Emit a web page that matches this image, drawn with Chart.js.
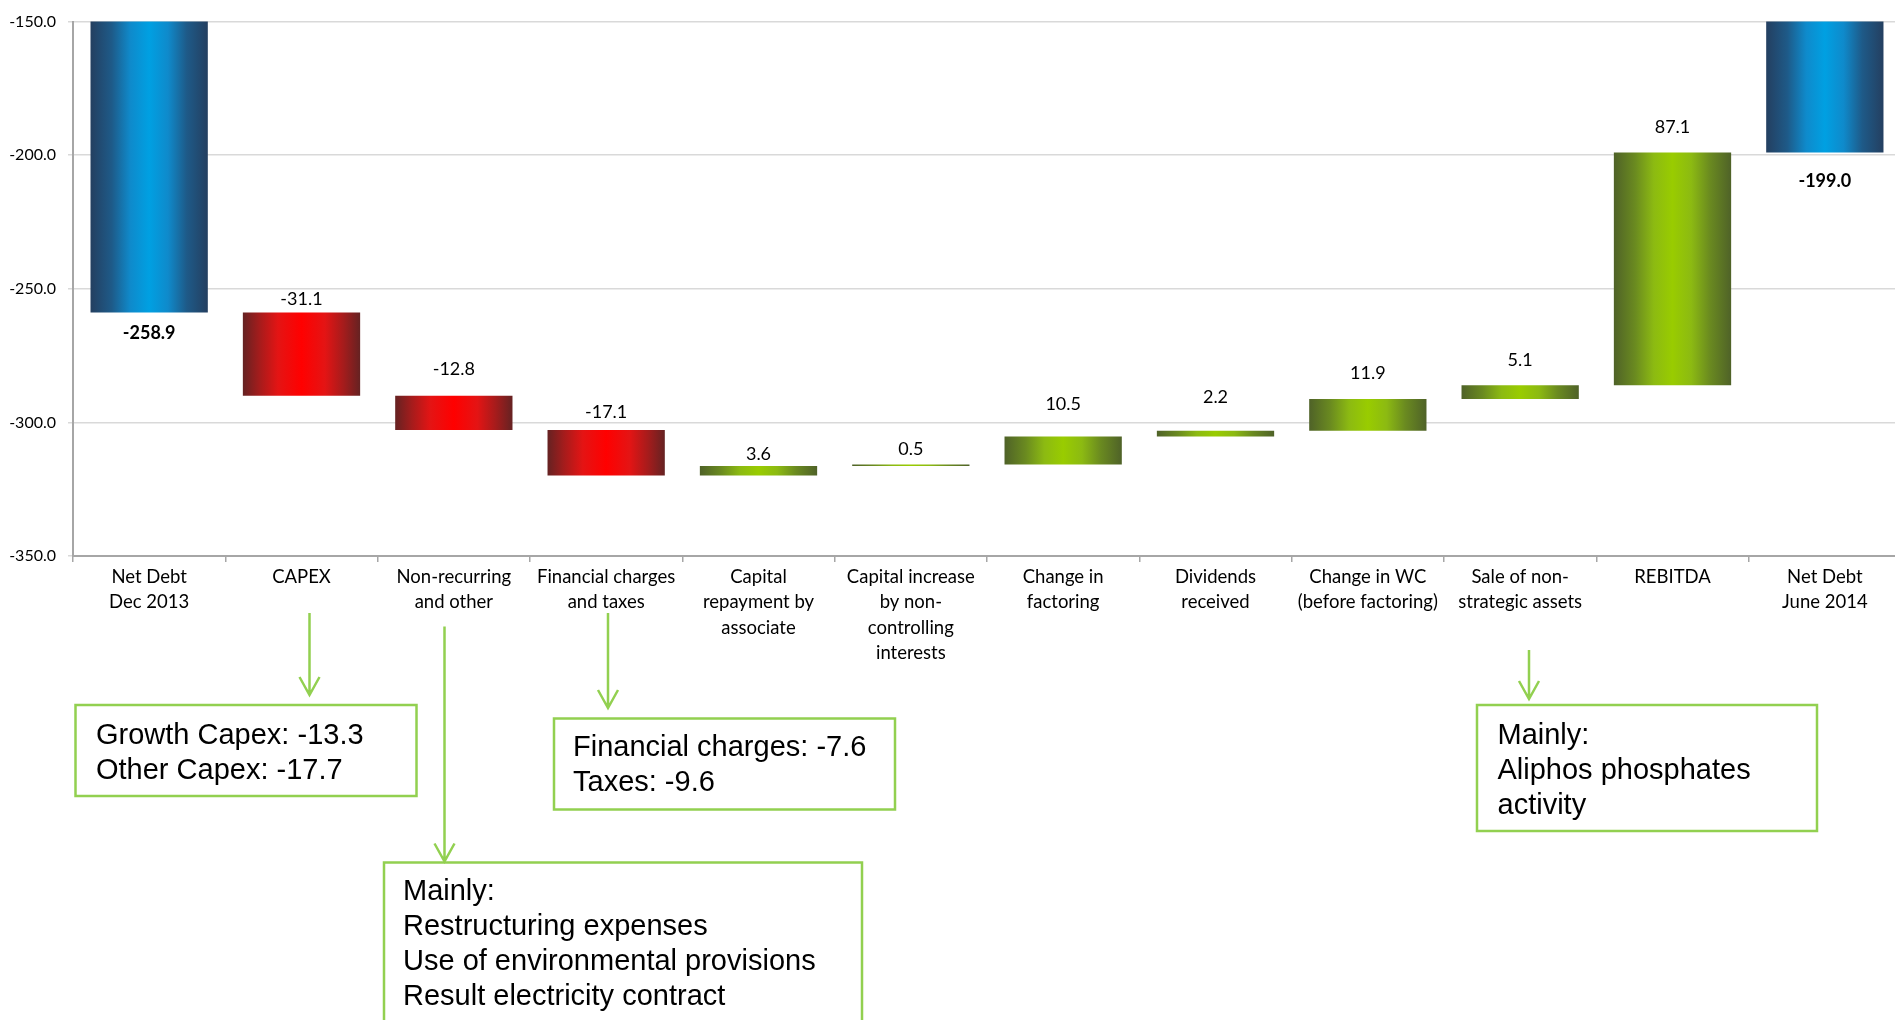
<!DOCTYPE html>
<html>
<head>
<meta charset="utf-8">
<title>Net debt bridge</title>
<script src="https://cdn.jsdelivr.net/npm/chart.js@4.4.1/dist/chart.umd.min.js"></script>
<style>
  html, body { margin: 0; padding: 0; background: #fff; overflow: hidden; }
  #wrap { position: relative; width: 1901px; height: 1020px; }
</style>
</head>
<body>
<div id="wrap"><canvas id="bridge"></canvas></div>
<script>
var categories = [
  ['Net Debt', 'Dec 2013'],
  ['CAPEX'],
  ['Non-recurring', 'and other'],
  ['Financial charges', 'and taxes'],
  ['Capital', 'repayment by', 'associate'],
  ['Capital increase', 'by non-', 'controlling', 'interests'],
  ['Change in', 'factoring'],
  ['Dividends', 'received'],
  ['Change in WC', '(before factoring)'],
  ['Sale of non-', 'strategic assets'],
  ['REBITDA'],
  ['Net Debt', 'June 2014']
];
// EUR m; first and last entries are closing balances, the rest are movements
var movements = [-258.9, -31.1, -12.8, -17.1, 3.6, 0.5, 10.5, 2.2, 11.9, 5.1, 87.1, -199.0];
var isBalance = [true, false, false, false, false, false, false, false, false, false, false, true];
var yTicks = [-350, -300, -250, -200, -150];

// distance of each value label from its bar edge (px)
var labelGap = [21, 13, 26, 18, 12, 15, 32, 33, 26, 25, 25, 29];

var callouts = [
  { lines: ['Growth Capex: -13.3', 'Other Capex: -17.7'],
    box: [75.5, 705, 341, 91], text: [96, 744], arrow: [309.5, 613, 695] },
  { lines: ['Financial charges: -7.6', 'Taxes: -9.6'],
    box: [554, 718.5, 341, 91], text: [573, 756], arrow: [608, 613, 708] },
  { lines: ['Mainly:', 'Restructuring expenses', 'Use of environmental provisions', 'Result electricity contract'],
    box: [384, 862.5, 478, 200], text: [403, 900], arrow: [444.5, 626.5, 861.5] },
  { lines: ['Mainly:', 'Aliphos phosphates', 'activity'],
    box: [1477, 705, 340, 126], text: [1497.5, 744], arrow: [1529, 650, 699] }
];

var BAR_PCT = 0.77;

// floating [from, to] ranges for the waterfall
var ranges = [];
var running = 0;
movements.forEach(function(v, i) {
  if (isBalance[i]) {
    ranges.push([0, v]);
    running = v;
  } else {
    ranges.push([running, running + v]);
    running += v;
  }
});

// edge -> centre colour stops, mirrored across the bar
var palettes = {
  balance: [[0, '#243f60'], [0.18, '#1e5a88'], [0.34, '#0f8acb'], [0.5, '#00a0e2']],
  down: [[0, '#652222'], [0.14, '#a41c1c'], [0.3, '#e41414'], [0.5, '#ff0000']],
  up: [[0, '#4f6228'], [0.18, '#6a8a20'], [0.34, '#8cba12'], [0.5, '#99cc00']]
};

function barFill(context) {
  var chart = context.chart;
  var xs = chart.scales.x;
  var i = context.dataIndex;
  var p = isBalance[i] ? palettes.balance : (movements[i] < 0 ? palettes.down : palettes.up);
  if (!xs || !chart.chartArea || i === undefined) return p[3][1];
  var w = xs.width / categories.length * BAR_PCT;
  var cx = xs.getPixelForValue(i);
  var g = chart.ctx.createLinearGradient(cx - w / 2, 0, cx + w / 2, 0);
  p.forEach(function(s) {
    g.addColorStop(s[0], s[1]);
    if (s[0] < 0.5) g.addColorStop(1 - s[0], s[1]);
  });
  return g;
}

var valueLabels = {
  id: 'valueLabels',
  afterDatasetsDraw: function(chart) {
    var ctx = chart.ctx;
    var meta = chart.getDatasetMeta(0);
    ctx.save();
    ctx.fillStyle = '#000';
    ctx.textAlign = 'center';
    ctx.textBaseline = 'middle';
    meta.data.forEach(function(bar, i) {
      var top = Math.min(bar.y, bar.base);
      var bottom = Math.max(bar.y, bar.base);
      var txt = movements[i].toFixed(1);
      if (isBalance[i]) {
        ctx.font = 'bold 18px Lato';
        ctx.fillText(txt, bar.x, bottom + labelGap[i]);
      } else {
        ctx.font = '18px Lato';
        ctx.fillText(txt, bar.x, top - labelGap[i]);
      }
    });
    ctx.restore();
  }
};

var calloutBoxes = {
  id: 'calloutBoxes',
  afterDraw: function(chart) {
    var ctx = chart.ctx;
    ctx.save();
    ctx.strokeStyle = '#92d050';
    ctx.lineWidth = 2.5;
    ctx.fillStyle = '#000';
    ctx.font = '29px "Liberation Sans"';
    ctx.textAlign = 'left';
    ctx.textBaseline = 'alphabetic';
    callouts.forEach(function(c) {
      var b = c.box;
      ctx.strokeRect(b[0], b[1], b[2], b[3]);
      c.lines.forEach(function(line, k) {
        ctx.fillText(line, c.text[0], c.text[1] + k * 35);
      });
      var ax = c.arrow[0], y0 = c.arrow[1], y1 = c.arrow[2];
      ctx.beginPath();
      ctx.moveTo(ax, y0);
      ctx.lineTo(ax, y1);
      ctx.moveTo(ax - 10, y1 - 18);
      ctx.lineTo(ax, y1);
      ctx.lineTo(ax + 10, y1 - 18);
      ctx.stroke();
    });
    ctx.restore();
  }
};

Chart.defaults.font.family = 'Lato';
Chart.defaults.color = '#000';

new Chart(document.getElementById('bridge'), {
  type: 'bar',
  data: {
    labels: categories,
    datasets: [{
      data: ranges,
      backgroundColor: barFill,
      borderWidth: 0,
      barPercentage: BAR_PCT,
      categoryPercentage: 1
    }]
  },
  options: {
    responsive: true,
    maintainAspectRatio: false,
    animation: false,
    events: [],
    layout: { padding: { top: 19, right: 0, bottom: 0, left: 0 } },
    plugins: {
      legend: { display: false },
      tooltip: { enabled: false }
    },
    scales: {
      x: {
        grid: { drawOnChartArea: false, color: '#a6a6a6', lineWidth: 1.5, tickLength: 6 },
        border: { color: '#a6a6a6', width: 2 },
        ticks: { font: { size: 18.5, lineHeight: 1.38 }, padding: 2, maxRotation: 0, autoSkip: false },
        afterFit: function(scale) { scale.height = 464; }
      },
      y: {
        min: yTicks[0],
        max: yTicks[yTicks.length - 1],
        afterBuildTicks: function(scale) {
          scale.ticks = yTicks.map(function(v) { return { value: v }; });
        },
        grid: { color: '#d9d9d9', lineWidth: 1.5, tickLength: 5 },
        border: { color: '#a6a6a6', width: 2 },
        ticks: {
          font: { size: 16 },
          padding: 12,
          callback: function(v) { return Number(v).toFixed(1); }
        },
        afterFit: function(scale) { scale.width = 73; }
      }
    }
  },
  plugins: [valueLabels, calloutBoxes]
});
</script>
</body>
</html>
